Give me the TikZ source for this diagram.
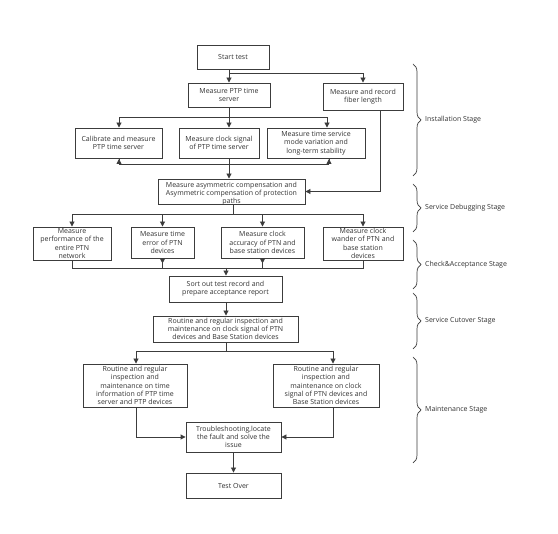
\documentclass[tikz,border=0pt]{standalone}
\usepackage{fontspec}
\setmainfont{Open Sans}
\usetikzlibrary{arrows.meta,decorations.pathreplacing}
\definecolor{ln}{HTML}{3C3C3C}
\definecolor{tx}{HTML}{333333}
\begin{document}
\begin{tikzpicture}[x=1pt,y=-1pt,
  every node/.style={font=\fontsize{7}{8.3}\selectfont, text=tx},
  box/.style={draw=ln, line width=0.9pt, align=center, inner sep=0pt, fill=white},
  boxtext/.style={align=center, inner sep=0pt},
  conn/.style={draw=ln, line width=0.9pt},
  arr/.style={conn, -{Triangle[length=5pt,width=5pt]}},
  rtip/.style={conn, -{Triangle[reversed,length=5pt,width=5pt]}},
  stip/.style={conn, {Triangle[reversed,length=5pt,width=5pt]}-},
  stagebrace/.style={draw=ln, line width=0.7pt, decorate, decoration={brace, amplitude=8pt}},
  stagelabel/.style={anchor=west, inner sep=0pt}]
\useasboundingbox (0,0) rectangle (558,534);
\fill[white] (0,0) rectangle (558,534);

% boxes
\node[box, minimum width=72pt, minimum height=24pt] (start) at (233,57) {Start test};
\node[box, minimum width=82pt, minimum height=24pt] (ptp) at (229,95) {Measure PTP time\\server};
\node[box, minimum width=80pt, minimum height=27pt] (fiber) at (363,96.5) {Measure and record\\fiber length};
\node[box, minimum width=87pt, minimum height=30pt] (cal) at (118.5,143) {Calibrate and measure\\PTP time server};
\node[box, minimum width=80pt, minimum height=30pt] (clk) at (219,143) {Measure clock signal\\of PTP time server};
\node[box, minimum width=98pt, minimum height=30pt] (tsm) at (316,143) {Measure time service\\mode variation and\\long-term stability};
\node[box, minimum width=147pt, minimum height=25pt] (asym) at (231.5,191.5) {};
\node[boxtext] (asymtxt) at (231.5,193.5) {Measure asymmetric compensation and\\Asymmetric compensation of protection\\paths};
\node[box, minimum width=78pt, minimum height=33pt] (m1) at (72,243.5) {Measure\\performance of the\\entire PTN\\network};
\node[box, minimum width=63pt, minimum height=31pt] (m2) at (162.5,242.5) {Measure time\\error of PTN\\devices};
\node[box, minimum width=83pt, minimum height=31pt] (m3) at (262.5,242.5) {Measure clock\\accuracy of PTN and\\base station devices};
\node[box, minimum width=80pt, minimum height=33pt] (m4) at (363,243.5) {Measure clock\\wander of PTN and\\base station\\devices};
\node[box, minimum width=113pt, minimum height=26pt] (sort) at (225.5,289) {Sort out test record and\\prepare acceptance report};
\node[box, minimum width=145pt, minimum height=26pt] (rout) at (225.5,329) {Routine and regular inspection and\\maintenance on clock signal of PTN\\devices and Base Station devices};
\node[box, minimum width=104pt, minimum height=43pt] (ml) at (135,385.5) {Routine and regular\\inspection and\\maintenance on time\\information of PTP time\\server and PTP devices};
\node[box, minimum width=106pt, minimum height=43pt] (mr) at (326,385.5) {Routine and regular\\inspection and\\maintenance on clock\\signal of PTN devices and\\Base Station devices};
\node[box, minimum width=95pt, minimum height=30pt] (trb) at (233.5,437) {Troubleshooting,locate\\the fault and solve the\\issue};
\node[box, minimum width=95pt, minimum height=25pt] (over) at (233.5,485.5) {Test Over};

% junction coordinates
\coordinate (j1) at (229,73);
\coordinate (j2) at (229,117);
\coordinate (j2r) at (327,117);
\coordinate (j3l) at (119,164);
\coordinate (j3r) at (329,164);
\coordinate (j4) at (233,214);
\coordinate (j5) at (226,268);
\coordinate (j6) at (226,351);
\coordinate (j6l) at (136,351);
\coordinate (j6r) at (333,351);

% connectors
\draw[arr] (ptp.north |- start.south) -- (ptp.north);
\draw[arr] (j1) -| (fiber.north);

\draw[conn] (ptp.south) -- (j2);
\draw[arr] (j2) -| (cal.north -| j3l);
\draw[arr] (j2) -- (clk.north -| j2);
\draw[arr] (j2) -- (j2r) -- (tsm.north -| j2r);

\draw[rtip] (cal.south -| j3l) -- (j3l);
\draw[rtip] (tsm.south -| j3r) -- (j3r);
\draw[conn] (j3l) -- (j3r);
\draw[arr] (clk.south -| j2) -- (asym.north -| j2);

\draw[arr] ([xshift=-23pt]fiber.south east) |- (asym.east);

\draw[conn] (asym.south -| j4) -- (j4);
\draw[arr] (j4) -| (m1.north);
\draw[arr] (j4) -| (m2.north);
\draw[arr] (j4) -| (m3.north);
\draw[arr] (j4) -| (m4.north);

\draw[conn] (m1.south) |- (j5);
\draw[conn] (m4.south) |- (j5);
\draw[stip] (m2.south) -- (m2.south |- j5);
\draw[stip] (m3.south) -- (m3.south |- j5);
\draw[arr] (j5) -- (sort.north -| j5);

\draw[arr] (sort.south -| j5) -- (rout.north -| j5);
\draw[conn] (rout.south -| j6) -- (j6);
\draw[conn] (j6l) -- (j6r);
\draw[arr] (j6l) -- (ml.north -| j6l);
\draw[arr] (j6r) -- (mr.north -| j6r);

\draw[arr] (ml.south -| j6l) |- (trb.west);
\draw[arr] (mr.south -| j6r) |- (trb.east);
\draw[arr] (trb.south) -- (over.north);

% stage braces
\coordinate (b1a) at (413,64);   \coordinate (b1b) at (413,176);
\coordinate (b2a) at (413,184);  \coordinate (b2b) at (413,232);
\coordinate (b3a) at (413,240);  \coordinate (b3b) at (413,289);
\coordinate (b4a) at (413,293);  \coordinate (b4b) at (413,349);
\coordinate (b5a) at (413,357);  \coordinate (b5b) at (413,463);
\draw[stagebrace] (b1a) -- (b1b);
\draw[stagebrace] (b2a) -- (b2b);
\draw[stagebrace] (b3a) -- (b3b);
\draw[stagebrace] (b4a) -- (b4b);
\draw[stagebrace] (b5a) -- (b5b);
\node[stagelabel] (s1) at (425,120) {Installation Stage};
\node[stagelabel] (s2) at (425,208) {Service Debugging Stage};
\node[stagelabel] (s3) at (425,264.5) {Check\&Acceptance Stage};
\node[stagelabel] (s4) at (425,321) {Service Cutover Stage};
\node[stagelabel] (s5) at (425,410) {Maintenance Stage};
\end{tikzpicture}
\end{document}
